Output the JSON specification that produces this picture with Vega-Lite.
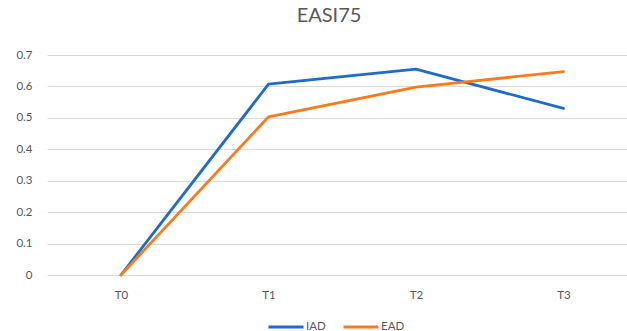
{
  "$schema": "https://vega.github.io/schema/vega-lite/v6.json",
  "autosize": "none",
  "width": 580,
  "height": 220,
  "padding": {"left": 47, "top": 55, "right": 0, "bottom": 56},
  "background": "white",
  "title": {
    "text": "EASI75",
    "fontSize": 20,
    "font": "Lato",
    "fontWeight": "normal",
    "color": "#595959",
    "anchor": "middle",
    "offset": 23,
    "dx": -8
  },
  "data": {
    "values": [
      {"time": "T0", "group": "IAD", "value": 0},
      {"time": "T1", "group": "IAD", "value": 0.607},
      {"time": "T2", "group": "IAD", "value": 0.655},
      {"time": "T3", "group": "IAD", "value": 0.53},
      {"time": "T0", "group": "EAD", "value": 0},
      {"time": "T1", "group": "EAD", "value": 0.503},
      {"time": "T2", "group": "EAD", "value": 0.598},
      {"time": "T3", "group": "EAD", "value": 0.647}
    ]
  },
  "mark": {"type": "line", "strokeWidth": 2.8, "strokeCap": "round", "strokeJoin": "round"},
  "encoding": {
    "x": {
      "field": "time",
      "type": "ordinal",
      "scale": {"type": "point", "padding": 0.466, "align": 0.538},
      "axis": {
        "title": null,
        "labelAngle": 0,
        "domain": false,
        "ticks": false,
        "grid": false,
        "labelPadding": 14,
        "labelFont": "Lato",
        "labelFontSize": 11.5,
        "labelColor": "#595959"
      }
    },
    "y": {
      "field": "value",
      "type": "quantitative",
      "scale": {"domain": [0, 0.7], "nice": false},
      "axis": {
        "title": null,
        "values": [0, 0.1, 0.2, 0.3, 0.4, 0.5, 0.6, 0.7],
        "format": "~g",
        "domain": false,
        "ticks": false,
        "labelPadding": 15,
        "labelFont": "Lato",
        "labelFontSize": 11.5,
        "labelColor": "#595959",
        "gridColor": "#d9d9d9",
        "gridWidth": 1.2
      }
    },
    "color": {
      "field": "group",
      "type": "nominal",
      "scale": {"domain": ["IAD", "EAD"], "range": ["#1f6bc7", "#fb7a1c"]},
      "legend": {
        "title": null,
        "orient": "none",
        "direction": "horizontal",
        "legendX": 220,
        "legendY": 253,
        "symbolType": "stroke",
        "symbolSize": 1225,
        "symbolStrokeWidth": 3,
        "labelFont": "Lato",
        "labelFontSize": 11.5,
        "labelColor": "#595959",
        "labelOffset": 1,
        "columnPadding": 11
      }
    },
    "order": {"field": "time"}
  },
  "config": {"view": {"stroke": null}}
}
